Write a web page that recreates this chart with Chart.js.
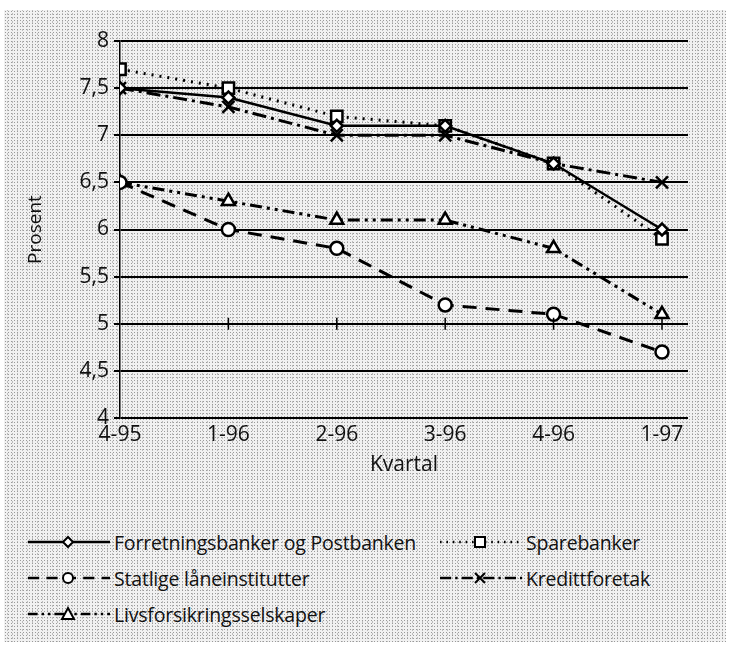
<!DOCTYPE html>
<html>
<head>
<meta charset="utf-8">
<script src="https://cdn.jsdelivr.net/npm/chart.js@4"></script>
<style>
  html, body { margin: 0; padding: 0; }
  body {
    width: 732px; height: 652px; overflow: hidden; position: relative;
    background: #fff;
    font-family: "Open Sans", "DejaVu Sans", sans-serif;
  }
  .paper {
    position: absolute; left: 4px; top: 10px; width: 722px; height: 632px;
    background:
      radial-gradient(circle, #9a9a9a 0.6px, transparent 0.9px) 0 0 / 3px 3px,
      radial-gradient(circle, #bdbdbd 0.5px, transparent 0.8px) 1px 2px / 5px 4px,
      #f1f1f1;
  }
  #wrap { position: absolute; left: 0; top: 0; width: 732px; height: 478px; }
  .legend { position: absolute; left: 0; top: 525px; width: 732px; }
  .item { position: absolute; display: flex; align-items: center; height: 30px; font-size: 19.5px; color: #111; letter-spacing: -0.2px; }
  .item svg { margin-right: 4px; }
</style>
</head>
<body>
<div class="paper"></div>
<div id="wrap"><canvas id="chart" width="732" height="478"></canvas></div>
<div class="legend" id="legend"></div>
<script>
// quarters on the x axis
const quarters = ['4-95', '1-96', '2-96', '3-96', '4-96', '1-97'];
const yTicks = [4, 4.5, 5, 5.5, 6, 6.5, 7, 7.5, 8];

// rates in percent
const forretningsbanker = [7.5, 7.4, 7.1, 7.1, 6.7, 6.0];
const sparebanker = [7.7, 7.5, 7.2, 7.1, 6.7, 5.9];
const statlige = [6.5, 6.0, 5.8, 5.2, 5.1, 4.7];
const kredittforetak = [7.5, 7.3, 7.0, 7.0, 6.7, 6.5];
const livsforsikring = [6.5, 6.3, 6.1, 6.1, 5.8, 5.1];

const seriesNames = ['Forretningsbanker og Postbanken', 'Sparebanker', 'Statlige låneinstitutter', 'Kredittforetak', 'Livsforsikringsselskaper'];

function pts(arr) { return arr.map((v, i) => ({ x: i, y: v })); }

const styles = [
  { dash: [], width: 2.5, marker: 'rectRot', radius: 6 },
  { dash: [2, 6], width: 3, marker: 'rect', radius: 8 },
  { dash: [14, 9], width: 3, marker: 'circle', radius: 6.5 },
  { dash: [14, 5, 3, 5], width: 3, marker: 'crossRot', radius: 8.5 },
  { dash: [12, 5, 3, 5, 3, 5], width: 3, marker: 'triangle', radius: 7.5 }
];
const allData = [forretningsbanker, sparebanker, statlige, kredittforetak, livsforsikring];

const datasets = allData.map((d, i) => ({
  label: seriesNames[i],
  data: pts(d),
  borderColor: '#000',
  backgroundColor: '#fff',
  borderWidth: styles[i].width,
  borderDash: styles[i].dash,
  pointStyle: styles[i].marker,
  pointRadius: styles[i].radius,
  pointBorderWidth: 2.5,
  pointBorderColor: '#000',
  pointBackgroundColor: '#fff',
  tension: 0
}));

// little tick marks where the category axis crosses at 5
const crossTicks = {
  id: 'crossTicks',
  afterDatasetsDraw(chart) {
    const ctx = chart.ctx, xs = chart.scales.x, ys = chart.scales.y;
    const y = ys.getPixelForValue(5);
    ctx.save();
    ctx.strokeStyle = '#000';
    ctx.lineWidth = 1.5;
    quarters.forEach((q, i) => {
      if (i === 0) return;
      const x = xs.getPixelForValue(i);
      ctx.beginPath();
      ctx.moveTo(x, y - 6);
      ctx.lineTo(x, y + 6);
      ctx.stroke();
    });
    ctx.restore();
  }
};

const font = { size: 21, family: '"Open Sans", sans-serif' };

new Chart(document.getElementById('chart'), {
  type: 'line',
  data: { datasets },
  plugins: [crossTicks],
  options: {
    responsive: false,
    animation: false,
    layout: { padding: { top: 41, right: 44, left: 24 } },
    plugins: { legend: { display: false }, tooltip: { enabled: false } },
    scales: {
      x: {
        type: 'linear',
        min: 0,
        max: 5.24,
        afterBuildTicks: s => { s.ticks = quarters.map((q, i) => ({ value: i })); },
        afterFit: s => { s.height = 60; },
        ticks: {
          callback: v => quarters[v],
          color: '#111',
          font,
          maxRotation: 0,
          padding: 4
        },
        grid: { display: false, drawTicks: false },
        border: { display: false },
        title: { display: true, text: 'Kvartal', color: '#111', font: { size: 21, family: '"Open Sans", sans-serif' }, padding: { top: 6, bottom: 0 } }
      },
      y: {
        min: 4,
        max: 8,
        afterBuildTicks: s => { s.ticks = yTicks.map(v => ({ value: v })); },
        afterFit: s => { s.width = 96; },
        ticks: {
          callback: v => String(v).replace('.', ','),
          color: '#111',
          font,
          padding: 5
        },
        grid: { color: '#000', lineWidth: 2, tickLength: 6 },
        border: { display: true, color: '#000', width: 1.5 },
        title: { display: true, text: 'Prosent', color: '#111', font: { size: 19, family: '"Open Sans", sans-serif' }, padding: 0 }
      }
    }
  }
});

// legend in two columns, like the original
const legendPos = [
  { left: 28, top: 2 }, { left: 440, top: 2 },
  { left: 28, top: 38 }, { left: 440, top: 38 },
  { left: 28, top: 74 }
];
function markerSvg(type) {
  const c = 'stroke="#000" stroke-width="2" fill="#fff"';
  if (type === 'rectRot') return `<path d="M40 10 L45 15 L40 20 L35 15 Z" ${c}/>`;
  if (type === 'rect') return `<rect x="35" y="10" width="10" height="10" ${c}/>`;
  if (type === 'circle') return `<circle cx="40" cy="15" r="5" ${c}/>`;
  if (type === 'crossRot') return `<path d="M35 10 L45 20 M45 10 L35 20" stroke="#000" stroke-width="2"/>`;
  return `<path d="M40 9 L46 20 L34 20 Z" ${c}/>`;
}
const legendEl = document.getElementById('legend');
seriesNames.forEach((name, i) => {
  const st = styles[i];
  const div = document.createElement('div');
  div.className = 'item';
  div.style.left = legendPos[i].left + 'px';
  div.style.top = legendPos[i].top + 'px';
  div.innerHTML = `<svg width="82" height="30"><line x1="0" y1="15" x2="82" y2="15" stroke="#000" stroke-width="2.5" stroke-dasharray="${st.dash.map(d => d * 0.8).join(' ')}"/>${markerSvg(st.marker)}</svg><span>${name}</span>`;
  legendEl.appendChild(div);
});
</script>
</body>
</html>
